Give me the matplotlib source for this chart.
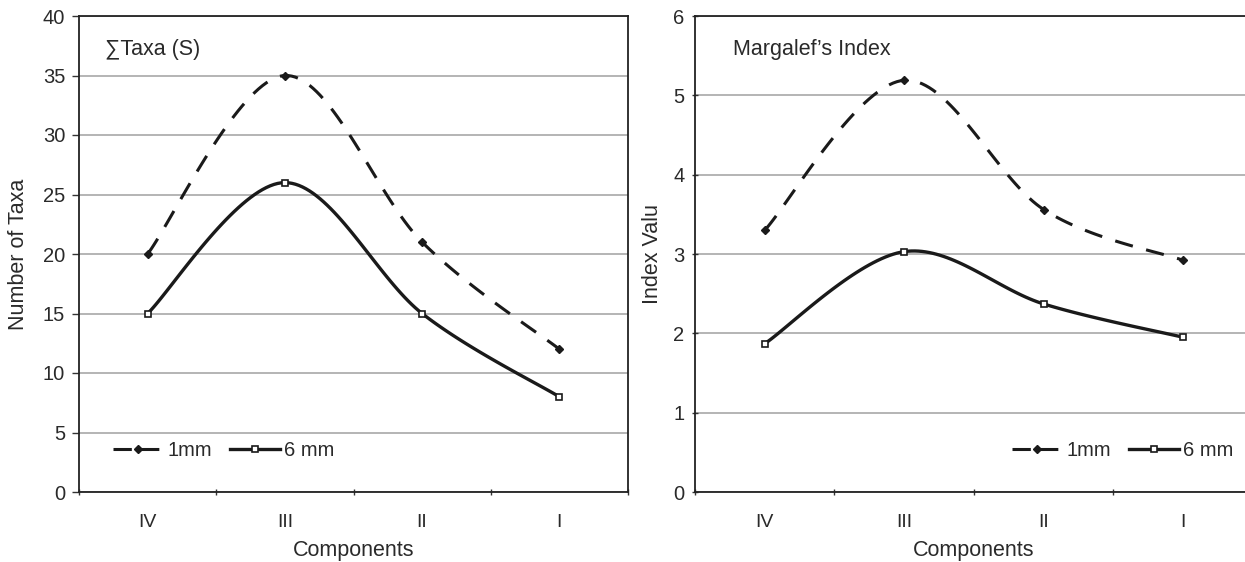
import numpy as np
import matplotlib
matplotlib.use("Agg")
import matplotlib.pyplot as plt
from matplotlib.lines import Line2D

plt.rcParams['font.family'] = ['Liberation Sans', 'DejaVu Sans']

COMPONENTS = ["IV", "III", "II", "I"]

TAXA_1MM = [20, 35, 21, 12]
TAXA_6MM = [15, 26, 15, 8]

MARGALEF_1MM = [3.30, 5.19, 3.56, 2.92]
MARGALEF_6MM = [1.87, 3.03, 2.37, 1.95]

TEXT = '#2a2a2a'


def smooth(x, y, steps=40):
    # Excel-style smoothed line: cubic Bezier through the points (Catmull-Rom)
    p = np.column_stack([x, y]).astype(float)
    ext = np.vstack([p[0], p, p[-1]])
    out = []
    t = np.linspace(0, 1, steps)[:, None]
    for i in range(1, len(ext) - 2):
        p0, p1, p2, p3 = ext[i - 1], ext[i], ext[i + 1], ext[i + 2]
        c1 = p1 + (p2 - p0) / 6
        c2 = p2 - (p3 - p1) / 6
        seg = ((1 - t) ** 3) * p1 + 3 * ((1 - t) ** 2) * t * c1 + 3 * (1 - t) * t ** 2 * c2 + t ** 3 * p2
        out.append(seg if i == 1 else seg[1:])
    out = np.vstack(out)
    return out[:, 0], out[:, 1]


def draw_panel(ax, s1, s6, ymax, ystep, title, title_x, ylabel, ylabel_x,
               legend_loc, legend_anchor, tickdir):
    x = np.arange(len(COMPONENTS))
    sx, sy = smooth(x, s1)
    ax.plot(sx, sy, color='#1a1a1a', lw=2.2, dashes=(6, 4.5), zorder=3)
    ax.plot(x, s1, ls='none', marker='D', ms=4.5, color='#1a1a1a', zorder=4)
    sx, sy = smooth(x, s6)
    ax.plot(sx, sy, color='#1a1a1a', lw=2.4, zorder=3)
    ax.plot(x, s6, ls='none', marker='s', ms=4.5, mfc='white', mec='#1a1a1a', mew=1.2, zorder=4)

    ax.set_xlim(-0.5, len(COMPONENTS) - 0.5)
    ax.set_ylim(0, ymax)
    ax.set_yticks(np.arange(0, ymax + ystep / 2, ystep))
    ax.yaxis.grid(True, color='#a0a0a0', lw=1.1)
    ax.set_axisbelow(True)

    ax.set_xticks(x)
    ax.set_xticklabels(COMPONENTS)
    ax.set_xticks(np.arange(-0.5, len(COMPONENTS)), minor=True)
    ax.tick_params(axis='x', which='major', length=0, pad=16, labelsize=14, colors=TEXT)
    ax.tick_params(axis='x', which='minor', length=5, direction='inout', width=1, color='#333333')
    ax.tick_params(axis='y', length=5, direction=tickdir, width=1, labelsize=14.5, colors=TEXT,
                   color='#333333', pad=5)

    for s in ax.spines.values():
        s.set_color('#222222')
        s.set_linewidth(1.3)

    ax.set_xlabel("Components", fontsize=15.5, color=TEXT)
    ax.xaxis.set_label_coords(0.5, -0.1)
    ax.set_ylabel(ylabel, fontsize=15.5, color=TEXT)
    ax.yaxis.set_label_coords(ylabel_x, 0.5)
    ax.text(title_x, 0.93, title, transform=ax.transAxes, fontsize=15.5, color=TEXT, va='center')

    handles = [
        Line2D([], [], color='#1a1a1a', lw=2.2, dashes=(6, 3), marker='D', ms=4.5),
        Line2D([], [], color='#1a1a1a', lw=2.4, marker='s', ms=4.5, mfc='white', mew=1.2),
    ]
    ax.legend(handles, ["1mm", "6 mm"], loc=legend_loc, bbox_to_anchor=legend_anchor,
              ncol=2, frameon=False, fontsize=14.5, handlelength=2.5, handletextpad=0.2,
              columnspacing=0.9, labelcolor=TEXT, borderaxespad=0)


fig = plt.figure(figsize=(12.45, 5.62), dpi=100)
ax1 = fig.add_axes([79 / 1245, 1 - 492 / 562, 549 / 1245, 476 / 562])
ax2 = fig.add_axes([695 / 1245, 1 - 492 / 562, 558 / 1245, 476 / 562])

draw_panel(ax1, TAXA_1MM, TAXA_6MM, 40, 5, "\u2211Taxa (S)", 0.047, "Number of Taxa", -0.091,
           'center left', (0.047, 0.087), 'out')
draw_panel(ax2, MARGALEF_1MM, MARGALEF_6MM, 6, 1, "Margalef\u2019s Index", 0.068, "Index Valu", -0.057,
           'center right', (0.98, 0.087), 'inout')

fig.savefig("out.png", dpi=100)
